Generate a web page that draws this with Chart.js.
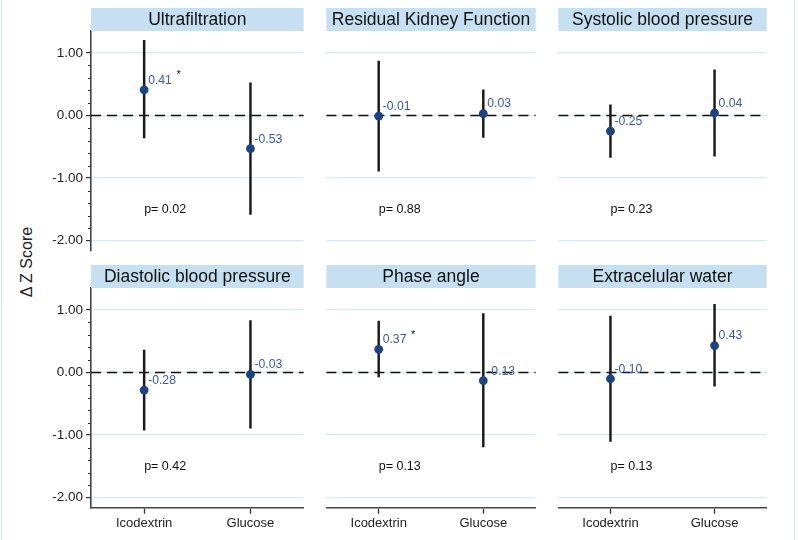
<!DOCTYPE html>
<html>
<head>
<meta charset="utf-8">
<script src="https://cdn.jsdelivr.net/npm/chart.js@4"></script>
<style>
    body { margin: 0; background: #fff; font-family: "Liberation Sans", Arial, sans-serif; }
    #page { position: relative; width: 798px; height: 540px; overflow: hidden; }
    .edge { position: absolute; top: 0; width: 1px; height: 540px; background: #dceaf6; }
    .panel { position: absolute; }
    #yTitle {
        position: absolute; left: 27px; top: 262px;
        transform: translate(-50%, -50%) rotate(-90deg);
        font-size: 16px; color: #222; white-space: nowrap;
    }
</style>
</head>
<body>
<div id="page">
    <div class="edge" style="left:1px"></div>
    <div class="edge" style="left:794px"></div>
    <div id="yTitle">Δ Z Score</div>
</div>
<script>
// Chart data
const panelTitles = ['Ultrafiltration', 'Residual Kidney Function', 'Systolic blood pressure',
                     'Diastolic blood pressure', 'Phase angle', 'Extracelular water'];
const groups = ['Icodextrin', 'Glucose'];
const means = [[0.41, -0.53], [-0.01, 0.03], [-0.25, 0.04], [-0.28, -0.03], [0.37, -0.13], [-0.10, 0.43]];
const lower = [[-0.36, -1.58], [-0.89, -0.35], [-0.67, -0.65], [-0.92, -0.89], [-0.07, -1.19], [-1.10, -0.22]];
const upper = [[1.20, 0.52], [0.87, 0.41], [0.17, 0.73], [0.36, 0.83], [0.82, 0.94], [0.90, 1.09]];
const pValues = ['p= 0.02', 'p= 0.88', 'p= 0.23', 'p= 0.42', 'p= 0.13', 'p= 0.13'];
const significant = [[true, false], [false, false], [false, false], [false, false], [true, false], [false, false]];
const yTicks = [1, 0, -1, -2];
const yMin = -2.16, yMax = 1.35;
const pLabelY = -1.5;

const FONT = '"Liberation Sans", Arial, sans-serif';

// Panel boxes on the page; every plot area is 219.7px tall
// (top row box runs a little into the bottom row so the -2.00 label has room)
const columns = [{ left: 0, width: 308, axis: true }, { left: 322, width: 218, axis: false }, { left: 554, width: 217, axis: false }];
const rows = [{ top: 0, height: 266, xAxis: false }, { top: 257, height: 283, xAxis: true }];
const PLOT_TOP = 31, PLOT_H = 219.7;

// Header band, dashed zero line, minor ticks, value labels and p text
const panelDecor = {
    id: 'panelDecor',
    beforeDatasetsDraw(chart) {
        const { ctx, chartArea: a, scales: { y } } = chart;
        const y0 = y.getPixelForValue(0);
        ctx.save();
        ctx.strokeStyle = '#111';
        ctx.lineWidth = 1.6;
        ctx.setLineDash([10, 6]);
        ctx.beginPath();
        ctx.moveTo(a.left, y0);
        ctx.lineTo(a.right, y0);
        ctx.stroke();
        ctx.restore();
    },
    afterDraw(chart) {
        const { ctx, chartArea: a, scales: { x, y } } = chart;
        const o = chart.options.plugins.panelDecor;
        ctx.save();
        // header band
        ctx.fillStyle = '#c6e0f2';
        ctx.fillRect(a.left, a.top - 23, a.right - a.left, 23);
        ctx.fillStyle = '#111';
        ctx.font = '17.5px ' + FONT;
        ctx.textAlign = 'center';
        ctx.textBaseline = 'middle';
        ctx.fillText(o.title, (a.left + a.right) / 2, a.top - 11);

        // minor ticks on the y axis
        if (o.axis) {
            ctx.strokeStyle = '#333';
            ctx.lineWidth = 1;
            for (let i = 0; i < yTicks.length - 1; i++) {
                for (let k = 1; k < 5; k++) {
                    const v = yTicks[i + 1] + k * 0.2;
                    const py = Math.round(y.getPixelForValue(v)) + 0.5;
                    ctx.beginPath();
                    ctx.moveTo(a.left - 3, py);
                    ctx.lineTo(a.left, py);
                    ctx.stroke();
                }
            }
        }

        // value labels next to the points
        ctx.font = '12.2px ' + FONT;
        ctx.textAlign = 'left';
        ctx.textBaseline = 'middle';
        o.means.forEach((m, i) => {
            const px = x.getPixelForValue(i) + 4;
            const py = y.getPixelForValue(m) - 9.5;
            const label = m.toFixed(2);
            ctx.fillStyle = '#3d5b9b';
            ctx.fillText(label, px, py);
            if (o.stars[i]) {
                ctx.fillStyle = '#111';
                ctx.font = '11px ' + FONT;
                ctx.fillText('*', px + ctx.measureText(label).width + 7, py - 5);
                ctx.font = '12.2px ' + FONT;
            }
        });

        // p value
        ctx.fillStyle = '#111';
        ctx.font = '12.5px ' + FONT;
        ctx.fillText(o.p, x.getPixelForValue(0), y.getPixelForValue(pLabelY));
        ctx.restore();
    }
};

function makePanel(index) {
    const row = rows[Math.floor(index / 3)];
    const col = columns[index % 3];

    const box = document.createElement('div');
    box.className = 'panel';
    box.style.left = col.left + 'px';
    box.style.top = row.top + 'px';
    box.style.width = col.width + 'px';
    box.style.height = row.height + 'px';
    const canvas = document.createElement('canvas');
    box.appendChild(canvas);
    document.getElementById('page').appendChild(box);

    new Chart(canvas.getContext('2d'), {
        type: 'bar',
        data: {
            labels: groups,
            datasets: [{
                // confidence interval as a floating bar
                data: groups.map((g, i) => [lower[index][i], upper[index][i]]),
                backgroundColor: '#1a1a1a',
                barThickness: 1.8,
                order: 2,
            }, {
                type: 'line',
                data: means[index],
                showLine: false,
                pointRadius: 4.4,
                pointBackgroundColor: '#1c4482',
                pointBorderWidth: 0,
                order: 1,
            }]
        },
        options: {
            responsive: true,
            maintainAspectRatio: false,
            animation: false,
            layout: { padding: { top: PLOT_TOP, bottom: 0, left: 0, right: 0 } },
            plugins: {
                legend: { display: false },
                tooltip: { enabled: false },
                panelDecor: { title: panelTitles[index], means: means[index], stars: significant[index], p: pValues[index], axis: col.axis }
            },
            scales: {
                x: {
                    offset: true,
                    grid: { display: row.xAxis, drawOnChartArea: false, offset: false, tickLength: 6, color: '#333', tickWidth: 1.3 },
                    border: { display: row.xAxis, color: '#444', width: 1.6 },
                    ticks: { display: row.xAxis, color: '#222', font: { family: FONT, size: 13 }, padding: 2 },
                    afterFit(s) { s.height = row.height - PLOT_TOP - PLOT_H; }
                },
                y: {
                    min: yMin,
                    max: yMax,
                    afterBuildTicks(s) { s.ticks = yTicks.map(v => ({ value: v })); },
                    grid: { color: '#d8e9f6', lineWidth: 1.2, drawTicks: col.axis, tickLength: 5, tickColor: '#333' },
                    border: { display: col.axis, color: '#444', width: 1.6 },
                    ticks: {
                        display: col.axis,
                        color: '#222',
                        padding: 3,
                        font: { family: FONT, size: 13.5 },
                        callback: v => v.toFixed(2)
                    },
                    afterFit(s) { s.width = col.axis ? 91 : 0; }
                }
            }
        },
        plugins: [panelDecor]
    });
}

for (let i = 0; i < panelTitles.length; i++) makePanel(i);
</script>
</body>
</html>
